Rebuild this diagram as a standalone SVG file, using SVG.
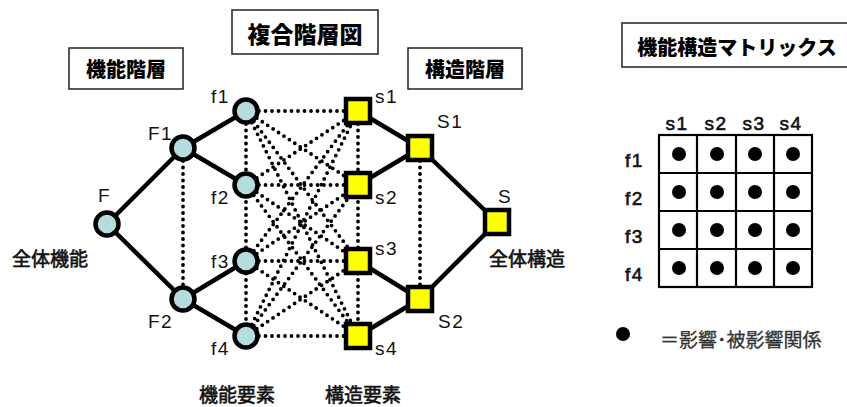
<svg xmlns="http://www.w3.org/2000/svg" width="847" height="407" viewBox="0 0 847 407">
<style>
.solid{stroke:#000;stroke-width:4.5;fill:none}
.dot{stroke:#000;stroke-width:3.8;stroke-dasharray:0 6.5;stroke-linecap:round;fill:none}
.fn{fill:#B5DCDF;stroke:#000;stroke-width:4.5}
.st{fill:#FFFF00;stroke:#000;stroke-width:4.5}
.lbl{font-family:"Liberation Sans",Arial,sans-serif;font-size:19px;fill:#111;letter-spacing:1.5px}
.mlbl{font-family:"Liberation Sans",Arial,sans-serif;font-size:19px;fill:#111;stroke:#111;stroke-width:0.6;letter-spacing:1.5px}
.jp{font-family:"Noto Sans CJK JP","Liberation Sans",sans-serif;font-size:19px;fill:#111;stroke:#111;stroke-width:0.6}
.ttl{font-family:"Noto Sans CJK JP","Liberation Sans",sans-serif;font-size:20px;font-weight:900;fill:#000;text-anchor:middle}
.box{fill:#fff;stroke:#222;stroke-width:1.5}
.grid{stroke:#000;stroke-width:2.2;fill:none}
</style>
<rect width="847" height="407" fill="#fff"/>
<g id="title-boxes">
<rect class="box" x="69" y="48" width="114" height="41"/>
<text class="ttl" x="126" y="77">機能階層</text>
<rect class="box" x="232" y="10" width="146" height="44"/>
<text class="ttl" x="305" y="43" style="font-size:23px">複合階層図</text>
<rect class="box" x="408" y="48" width="114" height="41"/>
<text class="ttl" x="465" y="77">構造階層</text>
<rect class="box" x="622" y="23" width="240" height="44"/>
<text class="ttl" x="737" y="55">機能構造マトリックス</text>
</g>
<g id="connectors">
<line class="dot" x1="183" y1="148" x2="183" y2="299"/>
<line class="dot" x1="246" y1="111" x2="246" y2="336"/>
<line class="dot" x1="358" y1="111" x2="358" y2="336"/>
<line class="dot" x1="420" y1="148" x2="420" y2="299"/>
<g>
<line class="dot" x1="246" y1="111" x2="358" y2="111"/>
<line class="dot" x1="246" y1="111" x2="358" y2="185"/>
<line class="dot" x1="246" y1="111" x2="358" y2="261"/>
<line class="dot" x1="246" y1="111" x2="358" y2="336"/>
<line class="dot" x1="246" y1="185" x2="358" y2="111"/>
<line class="dot" x1="246" y1="185" x2="358" y2="185"/>
<line class="dot" x1="246" y1="185" x2="358" y2="261"/>
<line class="dot" x1="246" y1="185" x2="358" y2="336"/>
<line class="dot" x1="246" y1="261" x2="358" y2="111"/>
<line class="dot" x1="246" y1="261" x2="358" y2="185"/>
<line class="dot" x1="246" y1="261" x2="358" y2="261"/>
<line class="dot" x1="246" y1="261" x2="358" y2="336"/>
<line class="dot" x1="246" y1="336" x2="358" y2="111"/>
<line class="dot" x1="246" y1="336" x2="358" y2="185"/>
<line class="dot" x1="246" y1="336" x2="358" y2="261"/>
<line class="dot" x1="246" y1="336" x2="358" y2="336"/>
</g>
<line class="solid" x1="107" y1="224" x2="183" y2="148"/>
<line class="solid" x1="107" y1="224" x2="183" y2="299"/>
<line class="solid" x1="183" y1="148" x2="246" y2="111"/>
<line class="solid" x1="183" y1="148" x2="246" y2="185"/>
<line class="solid" x1="183" y1="299" x2="246" y2="261"/>
<line class="solid" x1="183" y1="299" x2="246" y2="336"/>
<line class="solid" x1="358" y1="111" x2="420" y2="148"/>
<line class="solid" x1="358" y1="185" x2="420" y2="148"/>
<line class="solid" x1="358" y1="261" x2="420" y2="299"/>
<line class="solid" x1="358" y1="336" x2="420" y2="299"/>
<line class="solid" x1="420" y1="148" x2="497" y2="222"/>
<line class="solid" x1="420" y1="299" x2="497" y2="222"/>
</g>
<g id="F"><circle class="fn" cx="107" cy="224" r="11.5"/><text class="lbl" x="98" y="202">F</text><text class="jp" x="12" y="266">全体機能</text></g>
<g id="F1"><circle class="fn" cx="183" cy="148" r="11.5"/><text class="lbl" x="148" y="140">F1</text></g>
<g id="F2"><circle class="fn" cx="183" cy="299" r="11.5"/><text class="lbl" x="148" y="328">F2</text></g>
<g id="f1"><circle class="fn" cx="246" cy="111" r="11.5"/><text class="lbl" x="211" y="103">f1</text></g>
<g id="f2"><circle class="fn" cx="246" cy="185" r="11.5"/><text class="lbl" x="211" y="204">f2</text></g>
<g id="f3"><circle class="fn" cx="246" cy="261" r="11.5"/><text class="lbl" x="211" y="268">f3</text></g>
<g id="f4"><circle class="fn" cx="246" cy="336" r="11.5"/><text class="lbl" x="211" y="355">f4</text></g>
<g id="s1"><rect class="st" x="346" y="99" width="24" height="24"/><text class="lbl" x="375" y="103">s1</text></g>
<g id="s2"><rect class="st" x="346" y="173" width="24" height="24"/><text class="lbl" x="375" y="204">s2</text></g>
<g id="s3"><rect class="st" x="346" y="249" width="24" height="24"/><text class="lbl" x="375" y="255">s3</text></g>
<g id="s4"><rect class="st" x="346" y="324" width="24" height="24"/><text class="lbl" x="375" y="355">s4</text></g>
<g id="S1"><rect class="st" x="408" y="136" width="24" height="24"/><text class="lbl" x="437" y="128">S1</text></g>
<g id="S2"><rect class="st" x="408" y="287" width="24" height="24"/><text class="lbl" x="438" y="328">S2</text></g>
<g id="S"><rect class="st" x="485" y="210" width="24" height="24"/><text class="lbl" x="498" y="203">S</text><text class="jp" x="489" y="266">全体構造</text></g>
<g id="bottom-labels">
<text class="jp" x="199" y="402">機能要素</text>
<text class="jp" x="325" y="402">構造要素</text>
</g>
<g id="matrix">
<rect class="grid" x="659" y="135" width="153" height="152"/>
<line class="grid" x1="697" y1="135" x2="697" y2="287"/>
<line class="grid" x1="736" y1="135" x2="736" y2="287"/>
<line class="grid" x1="774" y1="135" x2="774" y2="287"/>
<line class="grid" x1="659" y1="173" x2="812" y2="173"/>
<line class="grid" x1="659" y1="211" x2="812" y2="211"/>
<line class="grid" x1="659" y1="249" x2="812" y2="249"/>
<g fill="#000">
<circle cx="679" cy="154" r="7"/><circle cx="717" cy="154" r="7"/><circle cx="755" cy="154" r="7"/><circle cx="793" cy="154" r="7"/>
<circle cx="679" cy="192" r="7"/><circle cx="717" cy="192" r="7"/><circle cx="755" cy="192" r="7"/><circle cx="793" cy="192" r="7"/>
<circle cx="679" cy="230" r="7"/><circle cx="717" cy="230" r="7"/><circle cx="755" cy="230" r="7"/><circle cx="793" cy="230" r="7"/>
<circle cx="679" cy="268" r="7"/><circle cx="717" cy="268" r="7"/><circle cx="755" cy="268" r="7"/><circle cx="793" cy="268" r="7"/>
</g>
<g class="mlbl" text-anchor="middle">
<text x="677" y="130">s1</text><text x="716" y="130">s2</text><text x="754" y="130">s3</text><text x="791" y="130">s4</text>
</g>
<g class="mlbl">
<text x="625" y="167">f1</text><text x="625" y="205">f2</text><text x="625" y="243">f3</text><text x="625" y="281">f4</text>
</g>
</g>
<g id="legend">
<circle cx="623" cy="334" r="7" fill="#000"/>
<text class="jp" x="660" y="347" style="fill:#333;stroke:#333;stroke-width:0.3">＝影響･被影響関係</text>
</g>
</svg>
